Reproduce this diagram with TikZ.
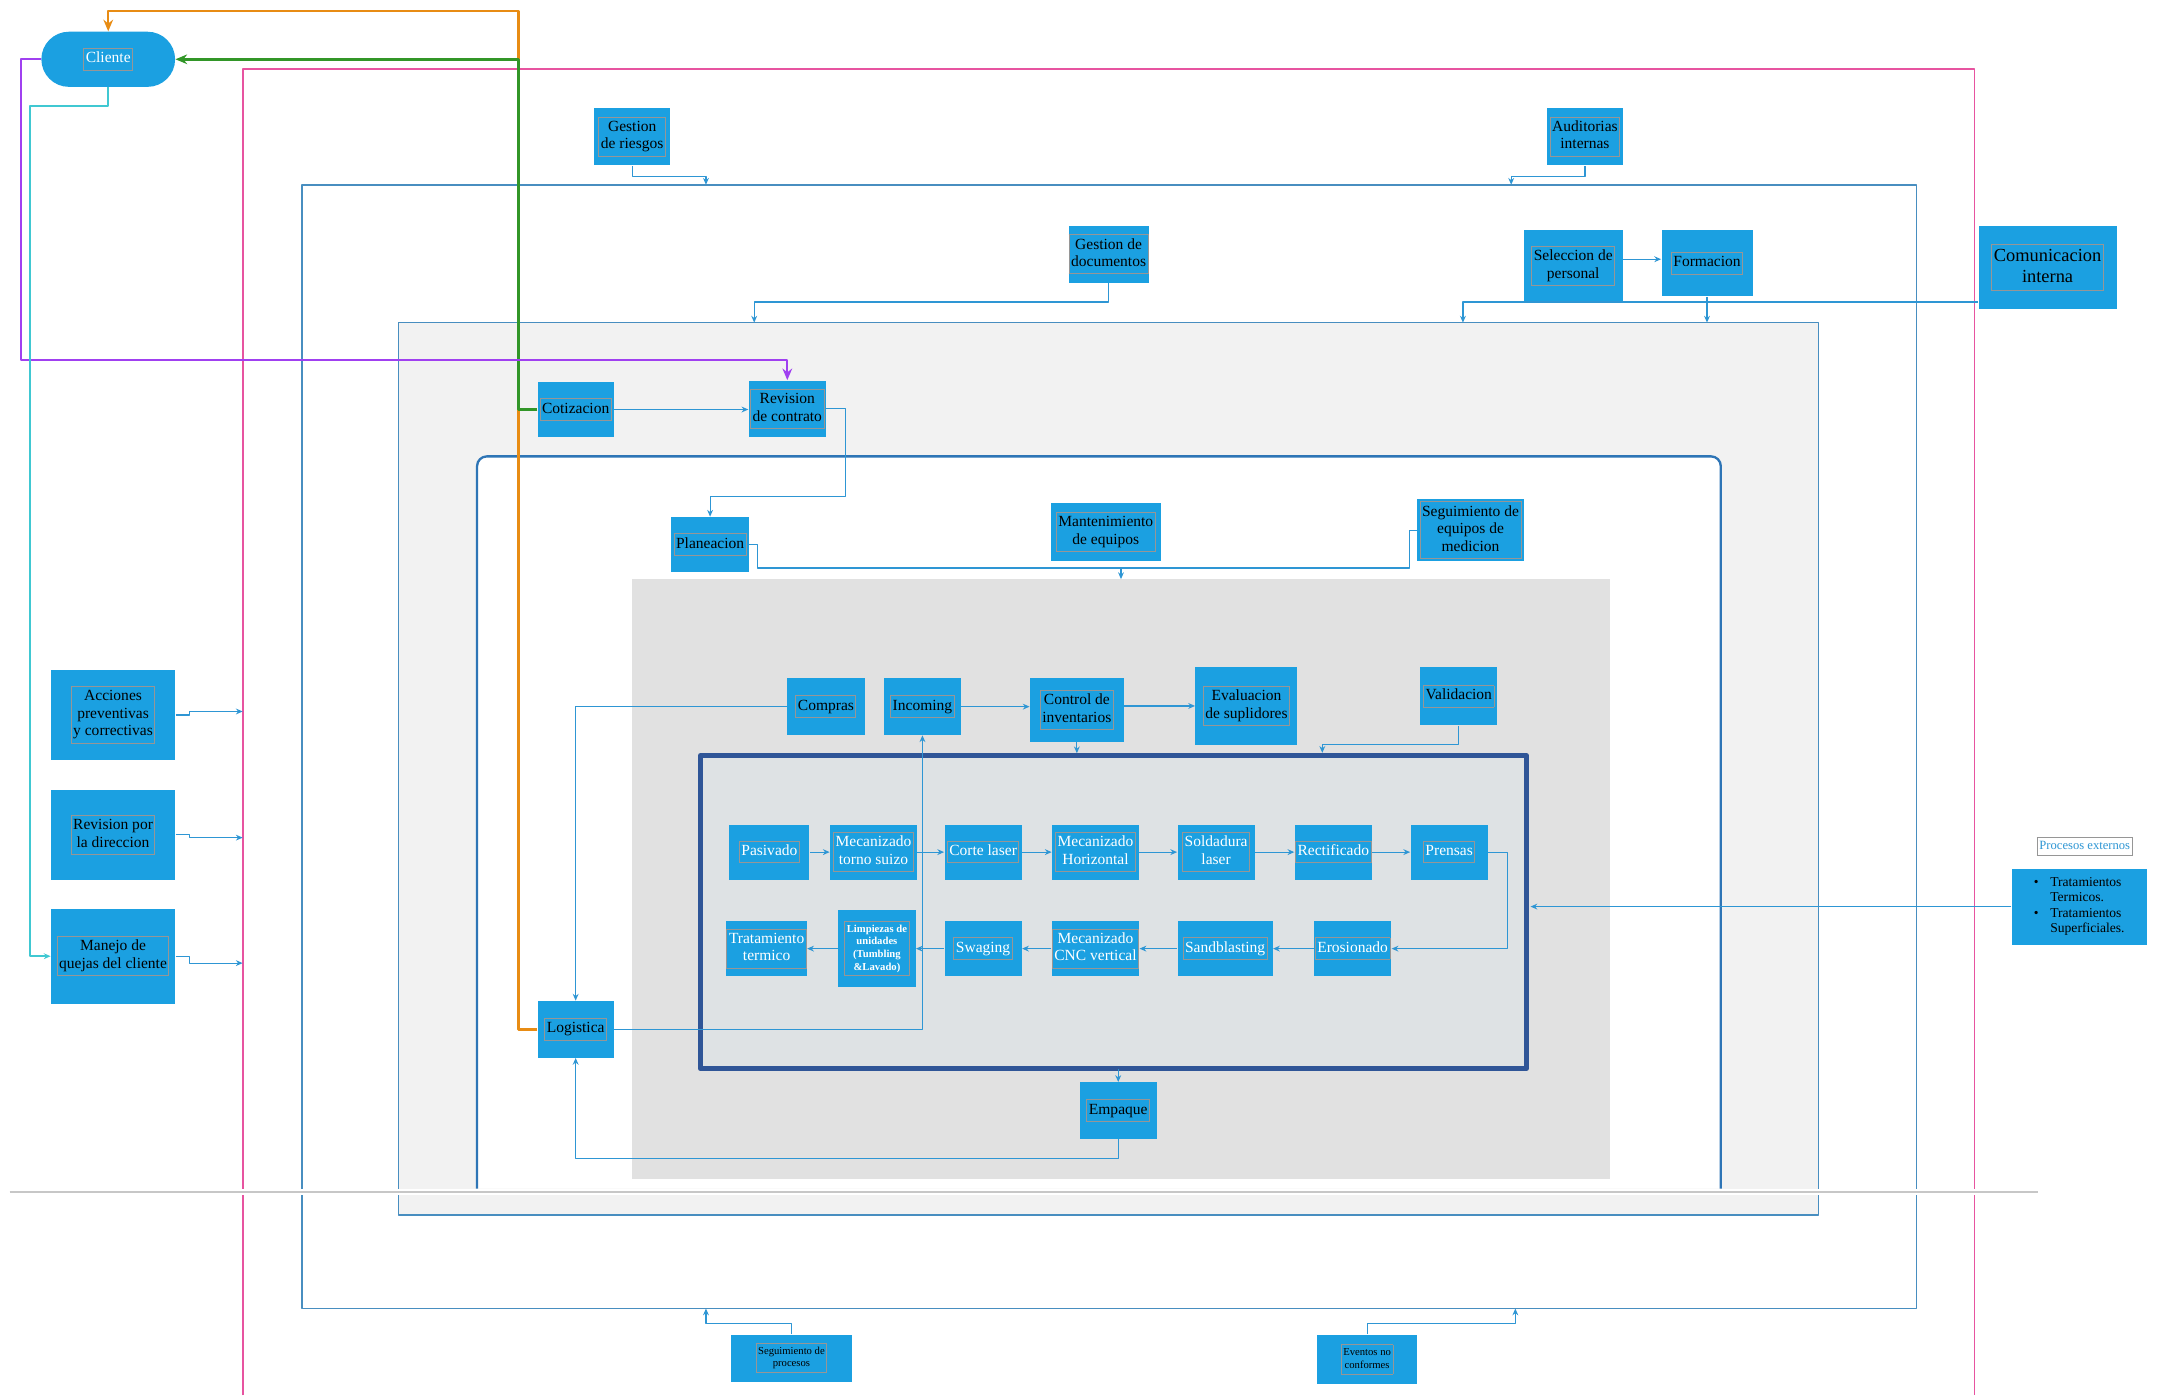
\documentclass[tikz,border=0pt]{standalone}
\usepackage{fontspec}
\setmainfont{Liberation Serif}
\usetikzlibrary{arrows.meta}
\definecolor{boxblue}{RGB}{27,160,225}
\definecolor{linkblue}{RGB}{46,150,212}
\definecolor{steel}{RGB}{72,142,192}
\definecolor{frblue}{RGB}{46,117,182}
\definecolor{navy}{RGB}{47,85,151}
\definecolor{framegray}{RGB}{150,150,150}
\definecolor{lpink}{RGB}{231,84,160}
\definecolor{lorange}{RGB}{232,140,20}
\definecolor{lgreen}{RGB}{50,150,40}
\definecolor{lpurple}{RGB}{160,64,240}
\definecolor{lcyan}{RGB}{64,200,210}
\definecolor{bgtwo}{RGB}{242,242,242}
\definecolor{bgfour}{RGB}{225,225,225}
\definecolor{bgfive}{RGB}{222,226,228}
\newcommand\boxtxt[2][boxblue]{{\setlength\fboxsep{0.8pt}\setlength\fboxrule{0.5pt}\fcolorbox{framegray}{#1}{\begin{tabular}{@{}c@{}}#2\end{tabular}}}}

\begin{document}
\begin{tikzpicture}[x=0.025cm,y=-0.025cm,line join=round,
	box/.style={fill=boxblue,inner sep=0pt,font=\fontsize{8}{9}\selectfont},
	wbox/.style={box,text=white},
	sz/.style 2 args={minimum width=#1*0.025cm,minimum height=#2*0.025cm},
	con/.style={draw=linkblue,line width=0.6pt},
	tip/.style={-{Stealth[length=3.5pt,width=3pt]}},
	bigtip/.style={-{Stealth[length=6pt,width=5pt]}},
	frame/.style={draw=steel,line width=0.8pt}]
	\useasboundingbox (0,0) rectangle (1568,1012);
	\def\sep{864.5}
	% frames
	\draw[draw=lpink,line width=1pt] (176,1012) -- (176,50) -- (1432,50) -- (1432,1012);
	\draw[frame] (219,134) rectangle (1390,949);
	\draw[frame,fill=bgtwo] (289,234) rectangle (1319,881);
	\draw[draw=frblue,line width=1.2pt,fill=white,rounded corners=5pt] (346,862) -- (346,331) -- (1248,331) -- (1248,862);
	\fill[bgfour] (458,420) rectangle (1168,855);
	\draw[draw=navy,line width=2.6pt,fill=bgfive] (508,548) rectangle (1107,775);
	\fill[white] (0,862.5) rectangle (1568,867);
	\draw[draw=black!22,line width=1.4pt] (7,\sep) -- (1478,\sep);

	\node[wbox,sz={97}{40},rounded corners=0.5cm] (cli) at (78.5,43) {\boxtxt{Cliente}};
	\node[box,sz={55}{42}] (gr) at (458.5,99) {\boxtxt{Gestion\\de riesgos}};
	\node[box,sz={55}{42}] (ai) at (1149.5,99) {\boxtxt{Auditorias\\internas}};
	\node[box,sz={56}{41}] (gd) at (804,184.5) {\boxtxt{Gestion de\\documentos}};
	\node[box,sz={72}{52}] (sp) at (1141,193) {\boxtxt{Seleccion de\\personal}};
	\node[box,sz={66}{48}] (fo) at (1238,191) {\boxtxt{Formacion}};
	\node[box,sz={100}{60},font=\fontsize{9.5}{11}\selectfont] (ci) at (1485,194) {\boxtxt{Comunicacion\\interna}};
	\node[box,sz={55}{40}] (cot) at (417.5,297) {\boxtxt{Cotizacion}};
	\node[box,sz={56}{41}] (rc) at (571,296.5) {\boxtxt{Revision\\de contrato}};
	\node[box,sz={56}{40}] (pl) at (515,395) {\boxtxt{Planeacion}};
	\node[box,sz={80}{42}] (me) at (802,386) {\boxtxt{Mantenimiento\\de equipos}};
	\node[box,sz={77}{45}] (se) at (1066.5,384.5) {\boxtxt{Seguimiento de\\equipos de\\medicion}};
	\node[box,sz={56}{41}] (com) at (599,512.5) {\boxtxt{Compras}};
	\node[box,sz={56}{41}] (inc) at (669,512.5) {\boxtxt{Incoming}};
	\node[box,sz={68}{46}] (ctl) at (781,515) {\boxtxt{Control de\\inventarios}};
	\node[box,sz={74}{56}] (ev) at (904,512) {\boxtxt{Evaluacion\\de suplidores}};
	\node[box,sz={56}{42}] (val) at (1058,505) {\boxtxt{Validacion}};

	\node[wbox,sz={58}{40}] (pas) at (558,618) {\boxtxt{Pasivado}};
	\node[wbox,sz={63}{40}] (mts) at (633.5,618) {\boxtxt{Mecanizado\\torno suizo}};
	\node[wbox,sz={56}{40}] (cl) at (713,618) {\boxtxt{Corte laser}};
	\node[wbox,sz={63}{40}] (mh) at (794.5,618) {\boxtxt{Mecanizado\\Horizontal}};
	\node[wbox,sz={56}{40}] (sol) at (882,618) {\boxtxt{Soldadura\\laser}};
	\node[wbox,sz={56}{40}] (rec) at (967,618) {\boxtxt{Rectificado}};
	\node[wbox,sz={56}{40}] (pre) at (1051,618) {\boxtxt{Prensas}};
	\node[wbox,sz={52}{40}] (tt) at (556,688) {\boxtxt{Tratamiento\\termico}};
	\node[wbox,sz={56}{56},font=\fontsize{5.5}{6.5}\selectfont\bfseries] (lim) at (636,688) {\boxtxt{Limpiezas de\\unidades\\(Tumbling\\\&Lavado)}};
	\node[wbox,sz={56}{40}] (sw) at (713,688) {\boxtxt{Swaging}};
	\node[wbox,sz={63}{40}] (cnc) at (794.5,688) {\boxtxt{Mecanizado\\CNC vertical}};
	\node[wbox,sz={69}{40}] (sb) at (888.5,688) {\boxtxt{Sandblasting}};
	\node[wbox,sz={56}{40}] (ero) at (981,688) {\boxtxt{Erosionado}};

	\node[box,sz={55}{41}] (log) at (417.5,746.5) {\boxtxt{Logistica}};
	\node[box,sz={56}{41}] (emp) at (811,805.5) {\boxtxt{Empaque}};
	\node[box,sz={90}{65}] (ac) at (82,518.5) {\boxtxt{Acciones\\preventivas\\y correctivas}};
	\node[box,sz={90}{65}] (rd) at (82,605.5) {\boxtxt{Revision por\\la direccion}};
	\node[box,sz={90}{69}] (mq) at (82,693.5) {\boxtxt{Manejo de\\quejas del cliente}};
	\node[box,sz={88}{34},font=\fontsize{5.5}{6.5}\selectfont] (sgp) at (574,985) {\boxtxt{Seguimiento de\\procesos}};
	\node[box,sz={73}{36},font=\fontsize{5.5}{6.5}\selectfont] (evn) at (991.5,986) {\boxtxt{Eventos no\\conformes}};
	\node[inner sep=0pt,text=linkblue,font=\fontsize{6.5}{7}\selectfont] (pe) at (1512,614) {\boxtxt[white]{Procesos externos}};
	\node[box,sz={98}{55},font=\fontsize{7}{8}\selectfont] (tr) at (1508,657.5)
		{\begin{tabular}{@{}l@{\hspace{6pt}}l@{}}\textbullet & Tratamientos\\ & Termicos.\\ \textbullet & Tratamientos\\ & Superficiales.\end{tabular}\hspace{10pt}};

	% connectors
	\draw[con,tip] (gr.south) -- ++(0,8) -| (512,134);
	\draw[con,tip] (ai.south) -- ++(0,8) -| (1096,134);
	\draw[con,tip] (gd.south) |- (547,219) -- (547,234);
	\draw[con,tip] (sp.east |- 0,188) -- (fo.west |- 0,188);
	\draw[con,tip] (fo.south) -- (fo.south |- 0,234);
	\draw[con,tip] (ci.west |- 0,219) -- (1061,219) -- (1061,234);
	\draw[con,tip] (cot.east) -- (cot.east -| rc.west);
	\draw[con,tip] (rc.east) -- ++(14,0) |- (515,360) -- (pl.north);
	\draw[con] (pl.east) -- ++(6,0) |- (1022,412) |- (se.west);
	\draw[con,tip] (813,412) -- (813,420);
	\draw[con,tip] (com.west) -| (log.north);
	\draw[con,tip] (inc.east) -- (inc.east -| ctl.west);
	\draw[con,tip] (ctl.east |- 0,512) -- (ev.west |- 0,512);
	\draw[con,tip] (ctl.south) -- ++(0,8);
	\draw[con,tip] (val.south) |- (959,540) -- (959,546);
	\draw[con,tip] (log.east) -| (inc.south);
	\foreach \a/\b in {pas/mts,mts/cl,cl/mh,mh/sol,sol/rec,rec/pre,ero/sb,sb/cnc,cnc/sw,sw/lim,lim/tt}
		\draw[con,tip] (\a) -- (\b);
	\draw[con,tip] (pre.east) -- ++(14,0) |- (ero.east);
	\draw[con,tip] (811,775) -- (emp.north);
	\draw[con,tip] (emp.south) -- ++(0,14) -| (log.south);
	\draw[con,tip] (tr.west) -- (1110,657.5);
	\draw[con,tip] (sgp.north) -- ++(0,-8) -| (512,949);
	\draw[con,tip] (evn.north) -- ++(0,-8) -| (1099,949);
	\draw[con,tip] (ac.east) -- ++(10,0) |- (176,516);
	\draw[con,tip] (rd.east) -- ++(10,0) |- (176,607.5);
	\draw[con,tip] (mq.east) -- ++(10,0) |- (176,698.5);

	\draw[draw=lorange,line width=1.3pt,bigtip] (log.west) -- (376,746.5) -- (376,8) -| (cli.north);
	\draw[draw=lgreen,line width=1.3pt,bigtip] (cot.west) -- (376,297) |- (cli.east);
	\draw[draw=lpurple,line width=1.1pt,bigtip] (cli.west) -- (15,43) |- (571,261) -- (rc.north);
	\draw[draw=lcyan,line width=0.9pt,tip] (cli.south) |- (22,77) |- (mq.west);
\end{tikzpicture}
\end{document}
